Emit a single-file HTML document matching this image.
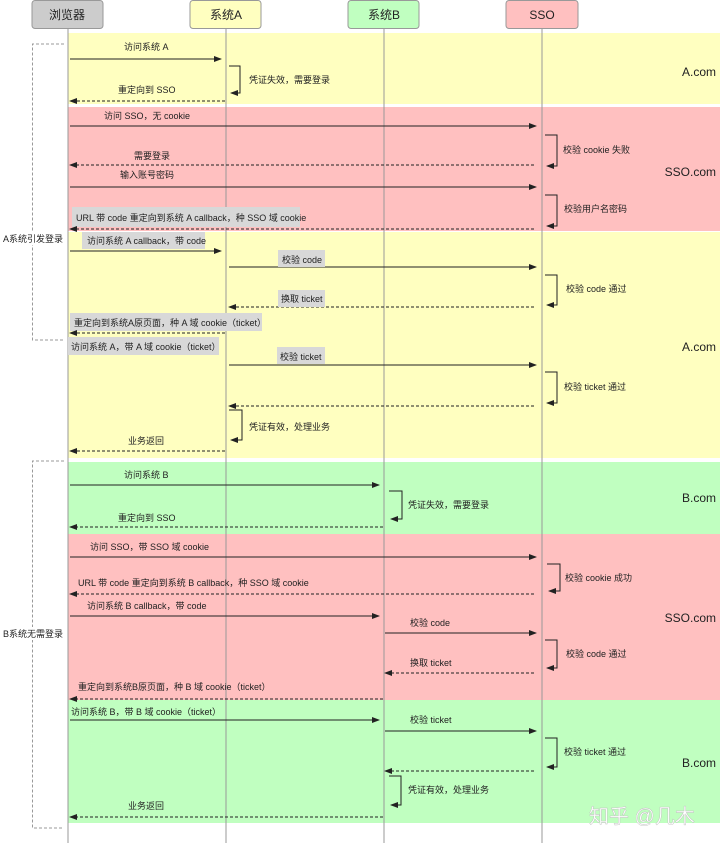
<!DOCTYPE html>
<html><head><meta charset="utf-8"><style>
body{margin:0;background:#fff}
svg{display:block;font-family:"Liberation Sans","Noto Sans CJK SC",sans-serif}
text{font-size:9px;fill:#222}
text.hdr{font-size:12px;text-anchor:middle}
.s{stroke:#222;stroke-width:1;fill:none}
.d{stroke:#222;stroke-width:1;fill:none;stroke-dasharray:3,2}
.lb{fill:#d8d8d8}
text.dom{font-size:12px;text-anchor:end}
text.wm{font-size:20px;fill:#ffffff;stroke:#bbb;stroke-width:0.4}
</style></head><body>
<svg width="720" height="843" viewBox="0 0 720 843" xmlns="http://www.w3.org/2000/svg">
<defs><marker id="a" markerWidth="8" markerHeight="6" refX="7" refY="3" orient="auto" markerUnits="userSpaceOnUse"><path d="M0,0 L8,3 L0,6z" fill="#222"/></marker></defs>
<rect x="68" y="33" width="652" height="71" fill="#ffffc0"/>
<rect x="68" y="107" width="652" height="124" fill="#ffc0c0"/>
<rect x="68" y="232" width="652" height="226" fill="#ffffc0"/>
<rect x="68" y="462" width="652" height="72" fill="#c0ffc0"/>
<rect x="68" y="534" width="652" height="166" fill="#ffc0c0"/>
<rect x="68" y="700" width="652" height="123" fill="#c0ffc0"/>
<rect x="32" y="0.5" width="71" height="28" rx="3" fill="#cccccc" stroke="#999"/>
<rect x="190" y="0.5" width="71" height="28" rx="3" fill="#ffffc0" stroke="#999"/>
<rect x="348" y="0.5" width="71" height="28" rx="3" fill="#c0ffc0" stroke="#999"/>
<rect x="506" y="0.5" width="72" height="28" rx="3" fill="#ffc0c0" stroke="#999"/>
<text class="hdr" x="67" y="19">浏览器</text><text class="hdr" x="226" y="19">系统A</text><text class="hdr" x="384" y="19">系统B</text><text class="hdr" x="542" y="19">SSO</text>
<g stroke="#999" stroke-width="1"><line x1="68" y1="29" x2="68" y2="843"/><line x1="226" y1="29" x2="226" y2="843"/><line x1="384" y1="29" x2="384" y2="843"/><line x1="542" y1="29" x2="542" y2="843"/></g>
<path d="M64,44 H32.5 V340 H64" stroke="#999" fill="none" stroke-dasharray="3,2"/>
<path d="M64,461 H32.5 V828 H64" stroke="#999" fill="none" stroke-dasharray="3,2"/>
<rect x="2" y="232" width="60" height="13" fill="#fff"/><text x="3" y="242">A系统引发登录</text>
<rect x="2" y="627" width="60" height="13" fill="#fff"/><text x="3" y="637">B系统无需登录</text>
<text class="dom" x="716" y="76">A.com</text>
<text class="dom" x="716" y="176">SSO.com</text>
<text class="dom" x="716" y="351">A.com</text>
<text class="dom" x="716" y="502">B.com</text>
<text class="dom" x="716" y="622">SSO.com</text>
<text class="dom" x="716" y="767">B.com</text>
<line class="s" x1="70" y1="59" x2="221" y2="59" marker-end="url(#a)"/><text x="124" y="50">访问系统 A</text>
<path class="s" d="M229,66 H240 V93 H231" marker-end="url(#a)"/><text x="249" y="83">凭证失效，需要登录</text>
<line class="d" x1="225" y1="101" x2="70" y2="101" marker-end="url(#a)"/><text x="118" y="93">重定向到 SSO</text>
<line class="s" x1="70" y1="126" x2="536" y2="126" marker-end="url(#a)"/><text x="104" y="119">访问 SSO，无 cookie</text>
<path class="s" d="M545,135 H557 V166 H547" marker-end="url(#a)"/><text x="563" y="153">校验 cookie 失败</text>
<line class="d" x1="534" y1="165" x2="70" y2="165" marker-end="url(#a)"/><text x="134" y="159">需要登录</text>
<line class="s" x1="70" y1="187" x2="536" y2="187" marker-end="url(#a)"/><text x="120" y="178">输入账号密码</text>
<path class="s" d="M545,195 H557 V226 H547" marker-end="url(#a)"/><text x="564" y="212">校验用户名密码</text>
<rect class="lb" x="72" y="207" width="228" height="20"/><text x="76" y="221">URL 带 code 重定向到系统 A callback，种 SSO 域 cookie</text>
<line class="d" x1="534" y1="229" x2="70" y2="229" marker-end="url(#a)"/>
<rect class="lb" x="82" y="232" width="123" height="17"/><text x="87" y="244">访问系统 A callback，带 code</text>
<line class="s" x1="70" y1="251" x2="221" y2="251" marker-end="url(#a)"/>
<line class="s" x1="229" y1="267" x2="536" y2="267" marker-end="url(#a)"/>
<rect class="lb" x="278" y="250" width="47" height="17"/><text x="282" y="263">校验 code</text>
<path class="s" d="M545,275 H557 V305 H547" marker-end="url(#a)"/><text x="566" y="292">校验 code 通过</text>
<line class="d" x1="534" y1="307" x2="229" y2="307" marker-end="url(#a)"/>
<rect class="lb" x="278" y="290" width="47" height="17"/><text x="281" y="302">换取 ticket</text>
<rect class="lb" x="70" y="313" width="192" height="18"/><text x="74" y="326">重定向到系统A原页面，种 A 域 cookie（ticket）</text>
<line class="d" x1="225" y1="333" x2="70" y2="333" marker-end="url(#a)"/>
<rect class="lb" x="68" y="337" width="151" height="18"/><text x="71" y="350">访问系统 A，带 A 域 cookie（ticket）</text>
<line class="s" x1="229" y1="365" x2="536" y2="365" marker-end="url(#a)"/>
<rect class="lb" x="277" y="347" width="48" height="17"/><text x="280" y="360">校验 ticket</text>
<path class="s" d="M545,372 H557 V403 H547" marker-end="url(#a)"/><text x="564" y="390">校验 ticket 通过</text>
<line class="d" x1="534" y1="406" x2="229" y2="406" marker-end="url(#a)"/>
<path class="s" d="M229,410 H242 V440 H231" marker-end="url(#a)"/><text x="249" y="430">凭证有效，处理业务</text>
<line class="d" x1="225" y1="451" x2="70" y2="451" marker-end="url(#a)"/><text x="128" y="444">业务返回</text>
<line class="s" x1="70" y1="485" x2="379" y2="485" marker-end="url(#a)"/><text x="124" y="478">访问系统 B</text>
<path class="s" d="M389,491 H402 V519 H391" marker-end="url(#a)"/><text x="408" y="508">凭证失效，需要登录</text>
<line class="d" x1="383" y1="527" x2="70" y2="527" marker-end="url(#a)"/><text x="118" y="521">重定向到 SSO</text>
<line class="s" x1="70" y1="557" x2="536" y2="557" marker-end="url(#a)"/><text x="90" y="550">访问 SSO，带 SSO 域 cookie</text>
<path class="s" d="M547,564 H560 V591 H549" marker-end="url(#a)"/><text x="565" y="581">校验 cookie 成功</text>
<line class="d" x1="534" y1="594" x2="70" y2="594" marker-end="url(#a)"/><text x="78" y="586">URL 带 code 重定向到系统 B callback，种 SSO 域 cookie</text>
<line class="s" x1="70" y1="616" x2="379" y2="616" marker-end="url(#a)"/><text x="87" y="609">访问系统 B callback，带 code</text>
<line class="s" x1="385" y1="633" x2="536" y2="633" marker-end="url(#a)"/><text x="410" y="626">校验 code</text>
<path class="s" d="M545,640 H557 V668 H547" marker-end="url(#a)"/><text x="566" y="657">校验 code 通过</text>
<line class="d" x1="534" y1="673" x2="385" y2="673" marker-end="url(#a)"/><text x="410" y="666">换取 ticket</text>
<line class="d" x1="383" y1="699" x2="70" y2="699" marker-end="url(#a)"/><text x="78" y="690">重定向到系统B原页面，种 B 域 cookie（ticket）</text>
<line class="s" x1="70" y1="720" x2="379" y2="720" marker-end="url(#a)"/><text x="71" y="715">访问系统 B，带 B 域 cookie（ticket）</text>
<line class="s" x1="385" y1="731" x2="536" y2="731" marker-end="url(#a)"/><text x="410" y="723">校验 ticket</text>
<path class="s" d="M545,738 H557 V767 H547" marker-end="url(#a)"/><text x="564" y="755">校验 ticket 通过</text>
<line class="d" x1="534" y1="771" x2="385" y2="771" marker-end="url(#a)"/>
<path class="s" d="M389,776 H401 V805 H391" marker-end="url(#a)"/><text x="408" y="793">凭证有效，处理业务</text>
<line class="d" x1="383" y1="817" x2="70" y2="817" marker-end="url(#a)"/><text x="128" y="809">业务返回</text>
<text class="wm" x="589" y="823">知乎 @几木</text>
</svg>
</body></html>
